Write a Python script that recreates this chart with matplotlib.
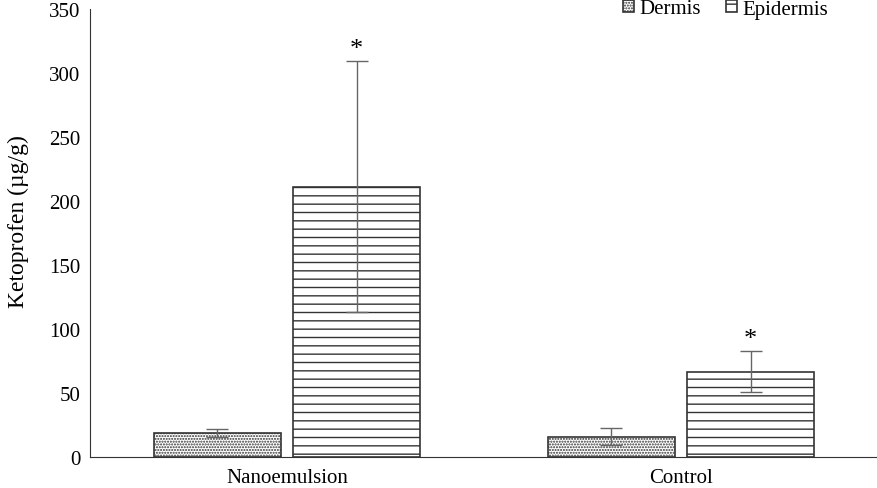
import numpy as np
import matplotlib.pyplot as plt

plt.rcParams['font.family'] = ['Liberation Serif', 'DejaVu Serif']
plt.rcParams['hatch.linewidth'] = 1.0

# data
groups = ['Nanoemulsion', 'Control']
dermis = [18.5, 16.0]
dermis_err = [3.0, 6.5]
epidermis = [211.0, 66.5]
epidermis_err = [98.0, 16.0]
marks = ['*', '*']

fig = plt.figure(figsize=(8.78, 4.89), dpi=100)
ax = fig.add_axes([90/878, 31/489, 788/878, 448/489])

x = np.arange(len(groups))
w = 0.322
off = 0.177

ax.bar(x - off, dermis, w, color='white', edgecolor='#333333', hatch='......',
       linewidth=1.2, label='Dermis')
ax.bar(x + off, epidermis, w, color='white', edgecolor='#333333', hatch='--',
       linewidth=1.2, label='Epidermis')

ax.errorbar(x - off, dermis, yerr=dermis_err, fmt='none', ecolor='#666666',
            elinewidth=1, capsize=8, capthick=1)
ax.errorbar(x + off, epidermis, yerr=epidermis_err, fmt='none', ecolor='#666666',
            elinewidth=1, capsize=8, capthick=1)

for i in range(len(groups)):
    ax.text(x[i] + off, epidermis[i] + epidermis_err[i] + 1, marks[i],
            ha='center', va='bottom', fontsize=19)

ax.set_xlim(-0.5, 1.5)
ax.set_ylim(0, 350)
ax.set_yticks(range(0, 351, 50))
ax.set_xticks(x)
ax.set_xticklabels(groups)
ax.tick_params(axis='y', length=0, labelsize=15, pad=7)
ax.tick_params(axis='x', length=0, labelsize=15, pad=8)
ax.set_ylabel('Ketoprofen (µg/g)', fontsize=17)
ax.yaxis.set_label_coords(-0.077, 0.527)

ax.spines['top'].set_visible(False)
ax.spines['right'].set_visible(False)
ax.spines['left'].set_color('#333333')
ax.spines['bottom'].set_color('#333333')

leg = ax.legend(loc='center right', bbox_to_anchor=(0.937, 1.0), ncol=2, frameon=False,
                fontsize=15, handlelength=0.55, handleheight=0.55, handletextpad=0.25,
                columnspacing=1.2, borderpad=0, borderaxespad=0)

fig.savefig('out.png', dpi=100)
